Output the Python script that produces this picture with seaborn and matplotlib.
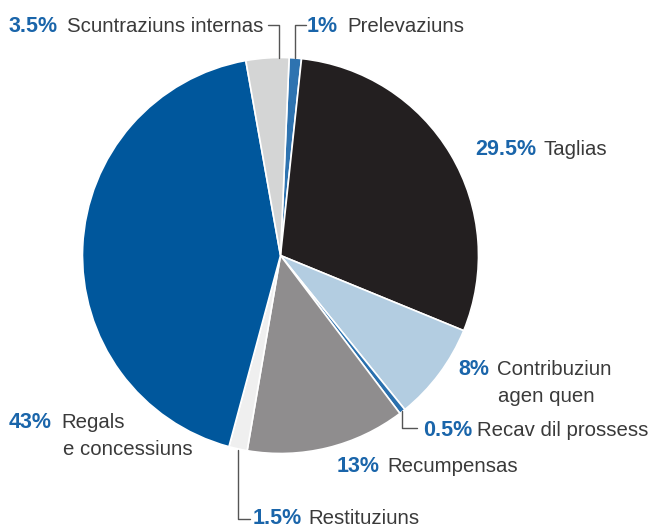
import matplotlib
matplotlib.use('Agg')
import matplotlib.pyplot as plt
import seaborn as sns
from matplotlib.lines import Line2D

sns.set_theme(style='white')
plt.rcParams['font.family'] = ['Liberation Sans', 'DejaVu Sans']

# ==========================================
# Data (clockwise from the top)
# ==========================================
names = ['Prelevaziuns', 'Taglias', 'Contribuziun\nagen quen', 'Recav dil prossess',
         'Recumpensas', 'Restituziuns', 'Regals\ne concessiuns', 'Scuntraziuns internas']
shares = [1, 29.5, 8, 0.5, 13, 1.5, 43, 3.5]
pct_labels = ['1%', '29.5%', '8%', '0.5%', '13%', '1.5%', '43%', '3.5%']
colors = ['#2e73b0', '#231f20', '#b3cde1', '#2a70ae', '#8f8d8e', '#efefef', '#00579c', '#d4d5d5']

W, H = 649, 530
fig = plt.figure(figsize=(W / 100, H / 100), dpi=100)

# pie axes: center and radius in pixels
cx, cy, r = 280.5, 255.5, 198
ax = fig.add_axes([(cx - r) / W, (H - cy - r) / H, 2 * r / W, 2 * r / H])
ax.pie(shares, colors=colors, startangle=87.5, counterclock=False,
       wedgeprops=dict(edgecolor='white', linewidth=1.2))
ax.set_xlim(-1, 1)
ax.set_ylim(-1, 1)
ax.axis('off')


def fx(x):
    return x / W


def fy(y):
    return 1 - y / H


# label layout in pixels: (pct left, name left, baseline, second line left)
label_pos = [
    (307, 347, 32, None),   # Prelevaziuns
    (475, 543, 155, None),  # Taglias
    (458, 497, 375, 498),   # Contribuziun
    (423, 477, 436, None),  # Recav
    (337, 387, 472, None),  # Recumpensas
    (253, 308, 524, None),  # Restituziuns
    (9, 61, 428, 63),       # Regals
    (9, 67, 32, None),      # Scuntraziuns
]

pct_color = '#1a65aa'
txt_color = '#3a3a3a'
fs = 14.7
for (px_, nx, by, nx2), pct, name in zip(label_pos, pct_labels, names):
    fig.text(fx(px_), fy(by), pct, ha='left', va='baseline', fontsize=15.5,
             fontweight='bold', color=pct_color)
    lines = name.split('\n')
    fig.text(fx(nx), fy(by), lines[0], ha='left', va='baseline', fontsize=fs,
             color=txt_color)
    if len(lines) > 1:
        fig.text(fx(nx2), fy(by + 27), lines[1], ha='left', va='baseline',
                 fontsize=fs, color=txt_color)

# leader lines (pixel coordinates)
leaders = [
    [(268, 25), (279, 25), (279, 58)],     # Scuntraziuns
    [(306, 25), (295, 25), (295, 58)],     # Prelevaziuns
    [(402, 411), (402, 428), (417, 428)],  # Recav
    [(238, 450), (238, 519), (250, 519)],  # Restituziuns
]
for pts in leaders:
    xs = [fx(p[0]) for p in pts]
    ys = [fy(p[1]) for p in pts]
    fig.add_artist(Line2D(xs, ys, color='#555555', linewidth=1.0))

fig.savefig('out.png', dpi=100)
